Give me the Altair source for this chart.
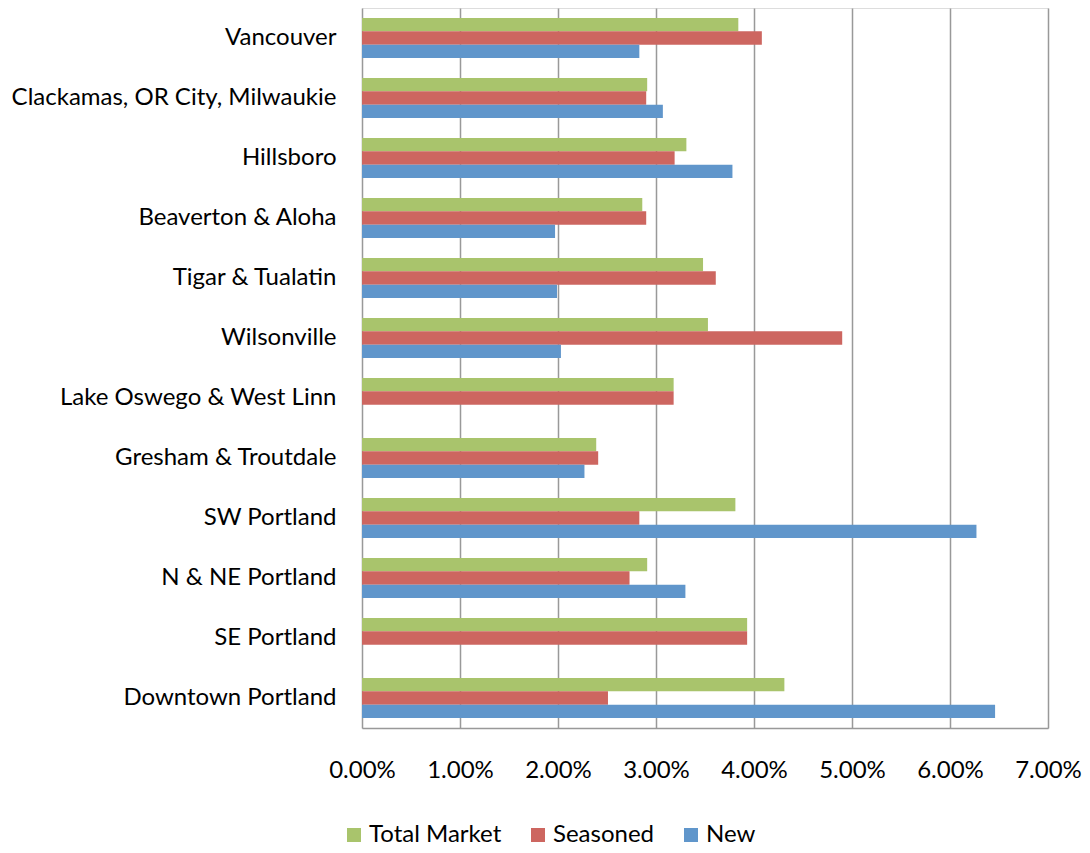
import altair as alt
import pandas as pd

regions = [
    "Vancouver",
    "Clackamas, OR City, Milwaukie",
    "Hillsboro",
    "Beaverton & Aloha",
    "Tigar & Tualatin",
    "Wilsonville",
    "Lake Oswego & West Linn",
    "Gresham & Troutdale",
    "SW Portland",
    "N & NE Portland",
    "SE Portland",
    "Downtown Portland",
]
total_market = [3.84, 2.91, 3.31, 2.86, 3.48, 3.53, 3.18, 2.39, 3.81, 2.91, 3.93, 4.31]
seasoned = [4.08, 2.90, 3.19, 2.90, 3.61, 4.90, 3.18, 2.41, 2.83, 2.73, 3.93, 2.51]
new = [2.83, 3.07, 3.78, 1.97, 1.99, 2.03, None, 2.27, 6.27, 3.30, None, 6.46]

series = ["Total Market", "Seasoned", "New"]
colors = ["#A9C46C", "#CD6660", "#6096CB"]
x_ticks = [0, 0.01, 0.02, 0.03, 0.04, 0.05, 0.06, 0.07]

rows = []
for name, vals in zip(series, [total_market, seasoned, new]):
    for r, v in zip(regions, vals):
        if v is not None:
            rows.append({"Region": r, "Series": name, "Rate": v / 100})
df = pd.DataFrame(rows)

FONT = "Lato"
FS = 24

chart = (
    alt.Chart(df)
    .mark_bar()
    .encode(
        x=alt.X(
            "Rate:Q",
            scale=alt.Scale(domain=[0, 0.07], nice=False),
            axis=alt.Axis(
                values=x_ticks,
                format=".2%",
                title=None,
                ticks=False,
                labelPadding=30,
                labelFontSize=FS,
                labelColor="#000000",
                labelFont=FONT,
                domainColor="#999999",
                domainWidth=1.5,
                gridColor="#999999",
                gridWidth=1.5,
                labelFlush=False,
            ),
        ),
        y=alt.Y(
            "Region:N",
            sort=regions,
            scale=alt.Scale(domain=regions, paddingInner=0.333, paddingOuter=0.167),
            axis=alt.Axis(
                title=None,
                ticks=False,
                domain=False,
                grid=False,
                labelPadding=26,
                labelFontSize=FS,
                labelColor="#000000",
                labelFont=FONT,
                labelLimit=400,
            ),
        ),
        yOffset=alt.YOffset(
            "Series:N",
            sort=series,
            scale=alt.Scale(domain=series, paddingInner=0, paddingOuter=0),
        ),
        color=alt.Color(
            "Series:N",
            scale=alt.Scale(domain=series, range=colors),
            legend=alt.Legend(
                title=None,
                orient="none",
                direction="horizontal",
                legendX=-20,
                legendY=815,
                symbolType="square",
                symbolSize=196,
                symbolStrokeWidth=0,
                labelFontSize=FS,
                labelFont=FONT,
                labelColor="#000000",
                labelOffset=3,
                columnPadding=24,
                symbolOpacity=1,
            ),
        ),
    )
    .properties(
        width=686,
        height=720,
        autosize=alt.AutoSizeParams(type="none"),
        padding={"left": 354, "top": 0, "right": 34, "bottom": 120},
    )
    .configure_view(stroke=None)
    .configure(background="#FFFFFF")
)

chart.save("out.html", embed_options={"renderer": "svg", "actions": False})
